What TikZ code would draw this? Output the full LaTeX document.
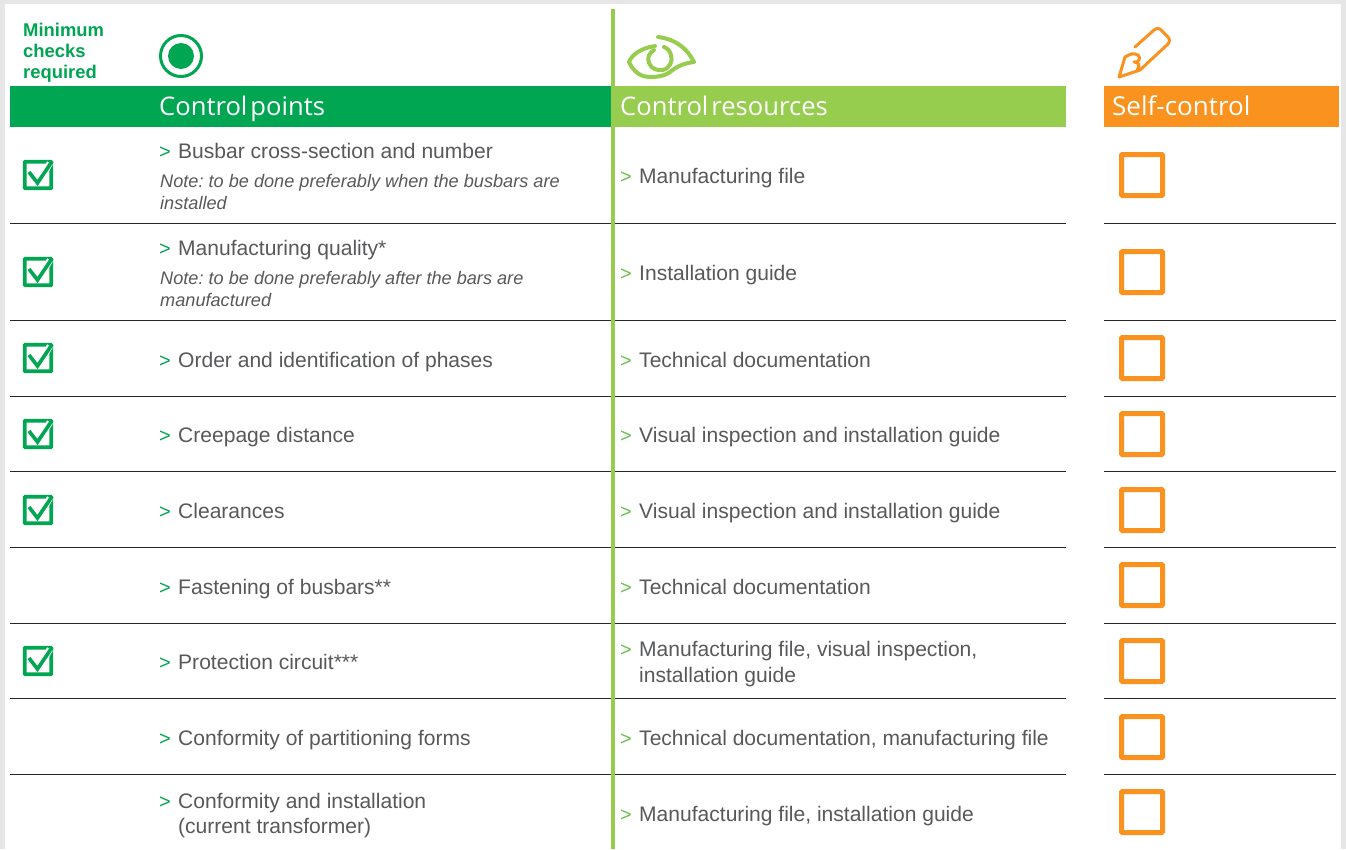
\documentclass[tikz,border=0pt]{standalone}
\usepackage{fontspec}
\setmainfont{Liberation Sans}
\newfontfamily\headfont[WordSpace=0.45]{Open Sans}
\frenchspacing
\definecolor{sgreen}{HTML}{00A651}
\definecolor{lgreen}{HTML}{97CD4E}
\definecolor{sorange}{HTML}{F9921E}
\definecolor{sgrey}{HTML}{58595B}
\definecolor{bggrey}{HTML}{E6E6E6}
\newcommand{\fs}[1]{\fontsize{#1}{#1}\selectfont}
\newcommand{\gtm}{\makebox[19pt][l]{\fs{20}\textcolor{sgreen}{>}}}
\newcommand{\ltm}{\makebox[19pt][l]{\fs{20}\textcolor{lgreen!70!sgreen}{>}}}
\tikzset{
 x=1pt,y=-1pt,
 headbar/.style={inner sep=0,outer sep=0,anchor=north west},
 headtext/.style={anchor=base west,inner sep=0,text=white,font=\headfont\fs{25.6}},
 body/.style={anchor=base west,inner sep=0,text=sgrey,font=\fs{21.05}},
 note/.style={anchor=base west,inner sep=0,text=sgrey,font=\itshape\fs{18.15}},
 mincheck/.style={anchor=base west,inner sep=0,text=sgreen,font=\bfseries\fs{18.4}},
 rowline/.style={draw=black!85,line width=1pt},
 selfbox/.style={draw=sorange,line width=5pt,rounded corners=1pt,minimum size=41pt,inner sep=0,fill=white},
 chkbox/.style={draw=sgreen,line width=3.6pt,minimum size=26.5pt,inner sep=0,rounded corners=.5pt},
 chk/.style={draw=sgreen,line width=3.6pt,line join=miter},
 chkhalo/.style={draw=white,line width=6.5pt},
}
\begin{document}
\begin{tikzpicture}
\useasboundingbox (0,0) rectangle (1346,849);
\fill[bggrey] (0,0) rectangle (1346,849);
\fill[white] (5,4) rectangle (1341,849);
% header bars
\node[headbar,fill=sgreen,minimum width=601pt,minimum height=41pt] (barA) at (10,86) {};
\node[headbar,fill=lgreen,minimum width=455pt,minimum height=41pt] (barB) at (611,86) {};
\node[headbar,fill=sorange,minimum width=235pt,minimum height=41pt] (barC) at (1104,86) {};
\node[headtext] (hA) at (159,115) {Control points};
\node[headtext] (hB) at (620,115) {Control resources};
\node[headtext,font=\headfont\fs{26}] (hC) at (1112,115) {Self-control};
% min checks
\node[mincheck] (m1) at (23,36) {Minimum};
\node[mincheck] (m2) at (23,57) {checks};
\node[mincheck] (m3) at (23,78) {required};
% target icon
\node[circle,draw=sgreen,line width=3pt,minimum size=41pt,inner sep=0] (target) at (181,56) {};
\node[circle,fill=sgreen,minimum size=26pt,inner sep=0] (targetdot) at (181,56) {};
% eye icon
\draw[lgreen,line width=4pt,line join=round,line cap=round]
 (658,37) .. controls (675,39) and (687,48) .. (694,62)
 .. controls (685,63) and (677,66) .. (670,72)
 .. controls (664,77) and (650,78) .. (643,76)
 .. controls (637,74) and (632,69) .. (629,62)
 .. controls (632,54) and (642,48) .. (655,46);
\draw[lgreen,line width=4pt,line cap=round]
 (654,50) .. controls (649,53) and (647,58) .. (649,63)
 .. controls (651,69) and (658,71) .. (663,70)
 .. controls (670,68) and (673,61) .. (671,55)
 .. controls (670,51) and (667,48) .. (664,47);
% pen icon
\draw[sorange,line width=3pt,line join=round,line cap=round]
 (1135,47) -- (1154,30) .. controls (1156,28) and (1158,28) .. (1160,29)
 -- (1168,37) .. controls (1170,40) and (1170,42) .. (1168,44)
 -- (1140,70) -- (1119,77) -- (1125,57) -- (1131,54);
\draw[sorange,line width=3pt,line cap=round,line join=round]
 (1131,54) .. controls (1137,53) and (1141,56) .. (1139,60)
 .. controls (1138,62) and (1136,62) .. (1134,62)
 .. controls (1138,62) and (1141,65) .. (1137,70);
% rows
\foreach \ya in {223,320,396,471,547,623,698,774}{
 \coordinate (la) at (10,\ya); \coordinate (lb) at (1066,\ya);
 \coordinate (lc) at (1104,\ya); \coordinate (ld) at (1336,\ya);
 \draw[rowline] (la) -- (lb);
 \draw[rowline] (lc) -- (ld);
}
% vertical separator
\coordinate (va) at (613,9); \coordinate (vb) at (613,849);
\draw[lgreen,line width=3.4pt] (va) -- (vb);
% self-control boxes
\foreach \yb [count=\i] in {175,272,358,434,510,585,661,737,812}{
 \node[selfbox] (self\i) at (1142,\yb) {};
}
% check boxes
\foreach \yc [count=\i] in {175,272,358,434,510,661}{
 \node[chkbox] (box\i) at (38,\yc) {};
 \draw[chkhalo] ([shift={(0,8)}]box\i.center) -- ([shift={(12,-12)}]box\i.center);
 \draw[chk] ([shift={(-9,-3)}]box\i.center) -- ([shift={(-0.5,8)}]box\i.center) -- ([shift={(14,-13.5)}]box\i.center);
}
% left text
\node[body] (a1) at (159,158) {\gtm Busbar cross-section and number};
\node[note] (a1n) at (160,187) {Note: to be done preferably when the busbars are};
\node[note] (a1m) at (160,209) {installed};
\node[body] (a2) at (159,255) {\gtm Manufacturing quality*};
\node[note] (a2n) at (160,284) {Note: to be done preferably after the bars are};
\node[note] (a2m) at (160,306) {manufactured};
\node[body] (a3) at (159,367) {\gtm Order and identification of phases};
\node[body] (a4) at (159,442) {\gtm Creepage distance};
\node[body] (a5) at (159,518) {\gtm Clearances};
\node[body] (a6) at (159,594) {\gtm Fastening of busbars**};
\node[body] (a7) at (159,669) {\gtm Protection circuit***};
\node[body] (a8) at (159,745) {\gtm Conformity of partitioning forms};
\node[body] (a9) at (159,808) {\gtm Conformity and installation};
\node[body] (a9b) at (178,833) {(current transformer)};
% middle text
\node[body] (b1) at (620,183) {\ltm Manufacturing file};
\node[body] (b2) at (620,280) {\ltm Installation guide};
\node[body] (b3) at (620,367) {\ltm Technical documentation};
\node[body] (b4) at (620,442) {\ltm Visual inspection and installation guide};
\node[body] (b5) at (620,518) {\ltm Visual inspection and installation guide};
\node[body] (b6) at (620,594) {\ltm Technical documentation};
\node[body] (b7) at (620,656) {\ltm Manufacturing file, visual inspection,};
\node[body] (b7b) at (639,682) {installation guide};
\node[body] (b8) at (620,745) {\ltm Technical documentation, manufacturing file};
\node[body] (b9) at (620,821) {\ltm Manufacturing file, installation guide};
\end{tikzpicture}
\end{document}
